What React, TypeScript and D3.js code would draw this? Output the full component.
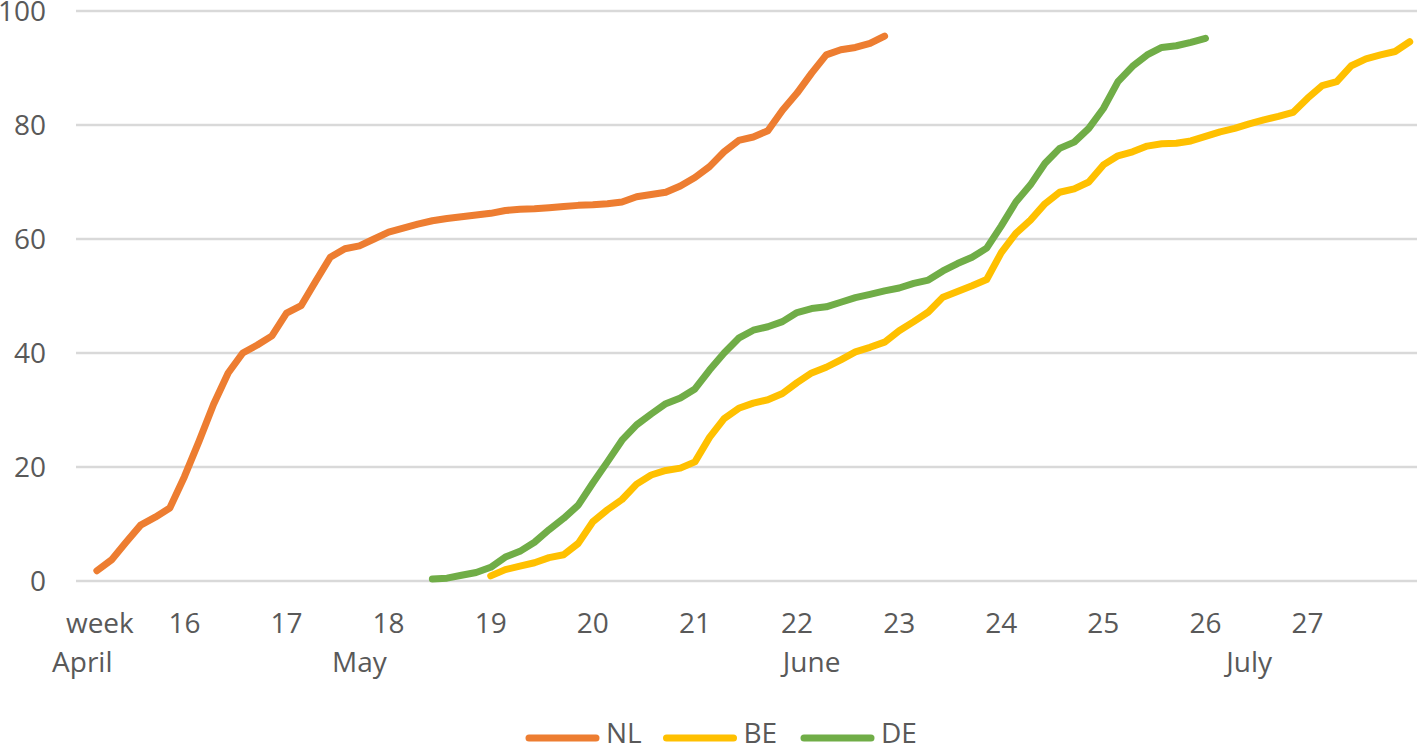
import React, { useEffect } from 'react';
import * as d3 from 'd3';

// day index 0 = 12 April (start of week 15), 92 daily categories
const dayCount = 92;

const weekLabelDays = [1, 7, 14, 21, 28, 35, 42, 49, 56, 63, 70, 77, 84];
const weekLabels = ['week', '16', '17', '18', '19', '20', '21', '22', '23', '24', '25', '26', '27'];
const monthLabelDays = [0, 19, 50, 80];
const monthLabels = ['April', 'May', 'June', 'July'];

const yTicks = [0, 20, 40, 60, 80, 100];

const nlStart = 1;
const nlValues = [
  1.8, 3.7, 6.8, 9.8, 11.2, 12.8, 18.3, 24.5, 31.0, 36.5,
  40.0, 41.4, 43.0, 47.0, 48.3, 52.6, 56.8, 58.3, 58.8, 60.0,
  61.2, 61.9, 62.6, 63.2, 63.6, 63.9, 64.2, 64.5, 65.0, 65.2,
  65.3, 65.5, 65.7, 65.9, 66.0, 66.2, 66.5, 67.4, 67.8, 68.2,
  69.3, 70.8, 72.7, 75.3, 77.3, 77.9, 79.0, 82.6, 85.6, 89.1,
  92.3, 93.2, 93.6, 94.3, 95.6,
];

const beStart = 28;
const beValues = [
  0.9, 2.0, 2.6, 3.2, 4.1, 4.6, 6.6, 10.4, 12.5, 14.3,
  17.0, 18.6, 19.4, 19.8, 20.9, 25.2, 28.5, 30.3, 31.2, 31.8,
  32.9, 34.8, 36.5, 37.5, 38.8, 40.2, 41.0, 41.9, 43.9, 45.5,
  47.2, 49.8, 50.8, 51.8, 52.9, 57.6, 61.0, 63.3, 66.2, 68.2,
  68.8, 70.0, 73.0, 74.6, 75.3, 76.3, 76.7, 76.8, 77.2, 78.0,
  78.8, 79.4, 80.2, 80.9, 81.5, 82.2, 84.7, 86.9, 87.6, 90.4,
  91.6, 92.3, 92.9, 94.6,
];

const deStart = 24;
const deValues = [
  0.35, 0.5, 1.0, 1.5, 2.4, 4.2, 5.2, 6.8, 9.0, 11.0,
  13.3, 17.2, 20.9, 24.7, 27.4, 29.3, 31.1, 32.1, 33.7, 37.0,
  40.0, 42.6, 44.0, 44.6, 45.5, 47.1, 47.8, 48.1, 48.9, 49.7,
  50.3, 50.9, 51.4, 52.2, 52.8, 54.4, 55.7, 56.8, 58.4, 62.3,
  66.5, 69.5, 73.3, 75.9, 77.0, 79.4, 82.9, 87.6, 90.3, 92.3,
  93.6, 93.9, 94.5, 95.2,
];

const seriesNames = ['NL', 'BE', 'DE'];
const seriesColors = ['#ED7D31', '#FFC000', '#70AD47'];
const seriesStarts = [nlStart, beStart, deStart];
const seriesValues = [nlValues, beValues, deValues];

const W = 1417;
const H = 744;
const FONT = '"Open Sans", "Liberation Sans", sans-serif';
const TEXT = '#595959';

const App: React.FC = () => {
  useEffect(() => {
    document.body.style.margin = '0';
  }, []);

  const x = d3.scalePoint<number>()
    .domain(d3.range(dayCount))
    .range([75, W])
    .padding(0.5);

  const y = d3.scaleLinear().domain([0, 100]).range([581, 11]);

  const line = d3.line<{ day: number; v: number }>()
    .x(d => x(d.day) as number)
    .y(d => y(d.v))
    .curve(d3.curveLinear);

  const series = seriesNames.map((name, k) => ({
    name,
    color: seriesColors[k],
    points: seriesValues[k].map((v, j) => ({ day: seriesStarts[k] + j, v })),
  }));

  const legendX = d3.scalePoint<string>().domain(seriesNames).range([525, 800]);

  return (
    <svg width={W} height={H} style={{ display: 'block', background: '#fff' }}>
      <g>
        {yTicks.map(t => (
          <g key={t}>
            <line x1={76} x2={W} y1={y(t)} y2={y(t)} stroke="#D9D9D9" strokeWidth={2.4} />
            <text x={46} y={y(t) + 10} textAnchor="end" fontFamily={FONT} fontSize={28} fill={TEXT}>
              {t}
            </text>
          </g>
        ))}
      </g>
      <g>
        {weekLabels.map((lab, k) => (
          <text key={lab} x={(x(weekLabelDays[k]) as number) + (k === 0 ? 3 : 0)} y={633}
            textAnchor="middle" fontFamily={FONT} fontSize={28} fill={TEXT}>
            {lab}
          </text>
        ))}
        {monthLabels.map((lab, k) => (
          <text key={lab} x={x(monthLabelDays[k]) as number} y={672}
            textAnchor="middle" fontFamily={FONT} fontSize={28} fill={TEXT}>
            {lab}
          </text>
        ))}
      </g>
      <g>
        {series.map(s => (
          <path key={s.name} d={line(s.points) || ''} fill="none" stroke={s.color}
            strokeWidth={7} strokeLinecap="round" strokeLinejoin="round" />
        ))}
      </g>
      <g>
        {series.map(s => {
          const lx = legendX(s.name) as number;
          return (
            <g key={s.name}>
              <line x1={lx + 4} x2={lx + 71} y1={738} y2={738} stroke={s.color}
                strokeWidth={7} strokeLinecap="round" />
              <text x={lx + 81} y={743} fontFamily={FONT} fontSize={28} fill={TEXT}>{s.name}</text>
            </g>
          );
        })}
      </g>
    </svg>
  );
};

export default App;
